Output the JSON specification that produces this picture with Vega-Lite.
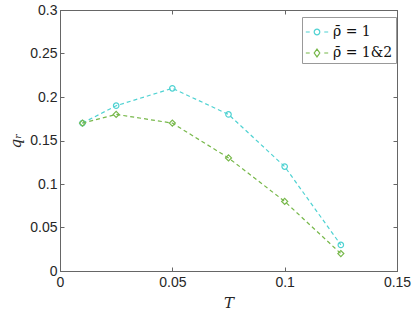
{
  "$schema": "https://vega.github.io/schema/vega-lite/v6.json",
  "width": 337,
  "height": 261,
  "autosize": "none",
  "padding": {"left": 60, "top": 10, "right": 18, "bottom": 43},
  "background": "white",
  "config": {
    "view": {"stroke": "#666", "strokeWidth": 1},
    "axis": {
      "grid": false,
      "domainColor": "#666",
      "tickColor": "#666",
      "labelFont": "Liberation Sans",
      "labelFontSize": 14,
      "labelColor": "#262626",
      "titleFont": "DejaVu Serif",
      "titleFontStyle": "italic",
      "titleFontWeight": "normal",
      "titleFontSize": 15,
      "titleColor": "#262626"
    }
  },
  "data": {
    "values": [
      {"T": 0.01, "q": 0.17, "s": "ρ̄ = 1"},
      {"T": 0.025, "q": 0.19, "s": "ρ̄ = 1"},
      {"T": 0.05, "q": 0.21, "s": "ρ̄ = 1"},
      {"T": 0.075, "q": 0.18, "s": "ρ̄ = 1"},
      {"T": 0.1, "q": 0.12, "s": "ρ̄ = 1"},
      {"T": 0.125, "q": 0.03, "s": "ρ̄ = 1"},
      {"T": 0.01, "q": 0.17, "s": "ρ̄ = 1&2"},
      {"T": 0.025, "q": 0.18, "s": "ρ̄ = 1&2"},
      {"T": 0.05, "q": 0.17, "s": "ρ̄ = 1&2"},
      {"T": 0.075, "q": 0.13, "s": "ρ̄ = 1&2"},
      {"T": 0.1, "q": 0.08, "s": "ρ̄ = 1&2"},
      {"T": 0.125, "q": 0.02, "s": "ρ̄ = 1&2"}
    ]
  },
  "layer": [
    {
      "mark": {"type": "line", "strokeDash": [4, 3], "strokeWidth": 1.2},
      "encoding": {
        "x": {
          "field": "T", "type": "quantitative",
          "scale": {"domain": [0, 0.15], "nice": false},
          "axis": {"values": [0, 0.05, 0.1, 0.15], "labelExpr": "datum.value + ''", "title": "T", "tickSize": -4, "labelPadding": 8, "titlePadding": 6, "labelFlush": false}
        },
        "y": {
          "field": "q", "type": "quantitative",
          "scale": {"domain": [0, 0.3], "nice": false},
          "axis": {"values": [0, 0.05, 0.1, 0.15, 0.2, 0.25, 0.3], "labelExpr": "datum.value + ''", "title": "qᵣ", "tickSize": -4, "labelPadding": 7, "titlePadding": 6}
        },
        "color": {
          "field": "s", "type": "nominal",
          "scale": {"domain": ["ρ̄ = 1", "ρ̄ = 1&2"], "range": ["#4fd2d2", "#77b84a"]},
          "legend": {
            "orient": "none", "legendX": 242, "legendY": 7,
            "title": null,
            "strokeColor": "#999", "fillColor": "white",
            "padding": 3, "rowPadding": 2,
            "labelFont": "DejaVu Serif", "labelFontSize": 14, "labelColor": "#111",
            "symbolSize": 500, "symbolStrokeWidth": 1.2, "symbolFillColor": "transparent",
            "encode": {
              "symbols": {
                "update": {
                  "shape": {"signal": "datum.value === 'ρ̄ = 1' ? 'M-1,0L-0.65,0M-0.25,0A0.25,0.25 0 1,0 0.25,0A0.25,0.25 0 1,0 -0.25,0M0.65,0L1,0' : 'M-1,0L-0.65,0M0,-0.35L0.25,0L0,0.35L-0.25,0ZM0.65,0L1,0'"}
                }
              }
            }
          }
        }
      }
    },
    {
      "transform": [{"filter": "datum.s === 'ρ̄ = 1'"}],
      "mark": {"type": "point", "shape": "circle", "filled": false, "strokeWidth": 1.2, "opacity": 1, "size": 30},
      "encoding": {
        "x": {"field": "T", "type": "quantitative", "axis": {"orient": "top", "values": [0, 0.05, 0.1, 0.15], "labels": false, "title": null, "tickSize": -4}},
        "y": {"field": "q", "type": "quantitative", "axis": {"orient": "right", "values": [0, 0.05, 0.1, 0.15, 0.2, 0.25, 0.3], "labels": false, "title": null, "tickSize": -4}},
        "color": {"field": "s", "type": "nominal", "legend": null}
      }
    },
    {
      "transform": [{"filter": "datum.s === 'ρ̄ = 1&2'"}],
      "mark": {"type": "point", "shape": "diamond", "filled": false, "strokeWidth": 1.2, "opacity": 1, "size": 36},
      "encoding": {
        "x": {"field": "T", "type": "quantitative", "axis": null},
        "y": {"field": "q", "type": "quantitative", "axis": null},
        "color": {"field": "s", "type": "nominal", "legend": null}
      }
    }
  ],
  "resolve": {"axis": {"x": "independent", "y": "independent"}}
}
